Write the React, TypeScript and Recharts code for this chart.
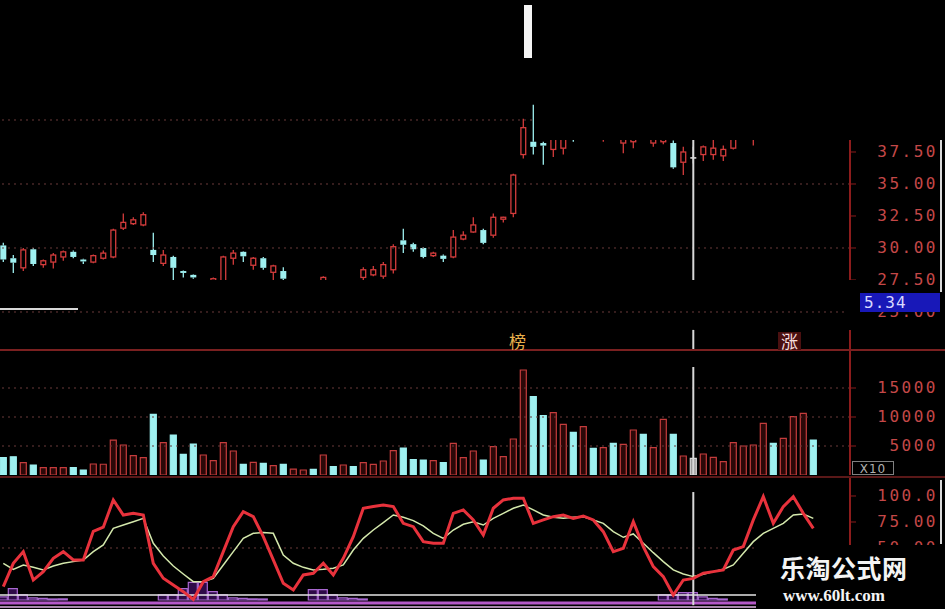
import { Bar, Cell, ComposedChart, Line, ReferenceLine, XAxis, YAxis } from "recharts";

// daily candles (hidden ones sit under the black patches)
const opens = [
  30.2, 29.2, 28.45, 29.9, 28.7, 28.9, 29.3, 29.7, 29.1, 28.9,
  29.2, 29.3, 31.55, 31.9, 31.8, 29.85, 28.8, 29.3, 28.2, 27.9,
  27.0, 27.0, 27.3, 29.2, 29.7, 28.65, 29.2, 28.1, 28.2, 27.0,
  27.1, 27.4, 27.3, 27.4, 27.1, 27.4, 27.7, 27.9, 27.8, 28.3,
  30.6, 30.3, 30.0, 29.4, 29.4, 29.3, 30.7, 31.25, 31.4, 31.0,
  32.25, 32.7, 37.3, 38.3, 38.2, 37.7, 37.8, 39.0, 38.6, 39.2,
  38.7, 39.1, 38.2, 38.3, 39.0, 38.2, 38.3, 38.2, 36.7, 37.1,
  37.3, 37.3, 37.2, 37.8, 38.6, 38.5, 38.9, 39.6, 39.2, 39.6,
  40.2, 40.8,
];
const highs = [
  30.4, 29.45, 30.0, 30.0, 29.1, 29.6, 29.8, 29.8, 29.15, 29.5,
  29.8, 31.5, 32.7, 32.4, 32.8, 31.2, 29.85, 29.4, 28.25, 27.95,
  27.45, 27.7, 29.4, 29.85, 29.75, 29.3, 29.3, 28.7, 28.5, 27.4,
  27.45, 27.45, 27.8, 27.45, 27.45, 27.45, 28.5, 28.6, 28.9, 30.3,
  31.5, 30.4, 30.05, 29.7, 29.5, 31.4, 31.3, 32.4, 31.5, 32.7,
  32.45, 35.8, 40.1, 41.2, 38.3, 38.8, 38.8, 39.2, 39.4, 39.4,
  39.3, 39.3, 39.0, 39.1, 39.2, 38.9, 39.0, 38.4, 37.9, 37.9,
  38.0, 38.7, 38.0, 38.7, 39.2, 39.2, 39.8, 39.8, 39.9, 40.5,
  41.1, 41.0,
];
const lows = [
  28.9, 28.05, 28.2, 28.6, 28.45, 28.4, 29.0, 29.2, 28.75, 28.8,
  29.1, 29.2, 31.4, 31.8, 31.7, 28.9, 28.6, 27.5, 27.7, 27.6,
  26.8, 26.9, 27.1, 28.7, 28.9, 28.3, 28.3, 27.5, 27.4, 26.8,
  26.9, 26.9, 27.2, 27.0, 27.0, 27.0, 27.5, 27.8, 27.6, 28.0,
  29.6, 29.7, 29.2, 29.3, 28.9, 29.2, 30.6, 31.2, 30.3, 30.8,
  32.0, 32.4, 37.0, 37.3, 36.5, 37.1, 37.3, 38.3, 38.5, 38.5,
  38.3, 38.5, 37.4, 37.8, 38.5, 37.9, 38.1, 36.2, 35.7, 36.6,
  36.8, 36.9, 36.8, 37.7, 38.5, 38.0, 38.7, 39.0, 39.0, 39.4,
  40.0, 40.1,
];
const closes = [
  29.1, 28.85, 29.85, 28.75, 29.0, 29.45, 29.7, 29.3, 28.95, 29.4,
  29.6, 31.4, 32.0, 32.2, 32.6, 29.45, 29.45, 28.45, 28.05, 27.7,
  27.3, 27.6, 29.3, 29.6, 29.35, 29.2, 28.45, 28.6, 27.6, 27.3,
  27.4, 27.1, 27.7, 27.2, 27.4, 27.2, 28.3, 28.3, 28.7, 30.1,
  30.25, 29.9, 29.3, 29.6, 29.15, 30.85, 31.0, 31.8, 30.4, 32.4,
  32.4, 35.7, 39.4, 37.9, 38.0, 38.5, 38.5, 38.5, 39.2, 38.7,
  39.1, 38.7, 38.8, 38.9, 38.6, 38.7, 38.8, 36.3, 37.5, 37.1,
  37.9, 37.8, 37.7, 38.5, 39.0, 39.0, 39.6, 39.2, 39.7, 40.3,
  40.9, 40.3,
];
const volumes = [
  2980, 3150, 2120, 1720, 1260, 1260, 1260, 1260, 860, 1900,
  1850, 6030, 5170, 3330, 2980, 10460, 5570, 6900, 3570, 5340,
  3450, 2470, 5570, 4140, 1840, 2190, 2010, 1610, 1840, 1030,
  860, 980, 3450, 1430, 1720, 1430, 2120, 1840, 2410, 4190,
  4650, 2650, 2590, 2470, 2120, 5460, 2980, 4140, 2590, 4880,
  3160, 6210, 18100, 13500, 10230, 10740, 8740, 7360, 8330, 4600,
  4710, 5460, 5290, 7760, 7010, 4710, 9600, 7010, 3280, 2870,
  3620, 3050, 2300, 5570, 5000, 5170, 8910, 5460, 6330, 10050,
  10640, 6030,
];
const kValues = [
  12.8, 35.3, 46.5, 19.2, 27.3, 40.1, 46.5, 38.5, 38.5, 66,
  70, 96.2, 81.7, 83.3, 81.7, 35.3, 20.9, 14.4, 8.0, 0.5,
  17.6, 22.5, 46.5, 70.5, 85, 80.1, 60.9, 38.5, 16.0, 9.6,
  24.1, 25.7, 35.3, 24.1, 40.1, 60.9, 88.2, 89.8, 91.4, 89.8,
  73.7, 70.5, 56.1, 54.5, 54.5, 83.3, 86.6, 77, 62.5, 88.2,
  96.2, 97.8, 97.8, 73.7, 77, 80.1, 81.7, 78.5, 80.8, 77,
  65.7, 46.5, 49.7, 75.3, 51.3, 32.1, 22.5, 4.8, 19.2, 20.8,
  25.7, 27.3, 28.9, 48.1, 51.3, 77, 99.4, 73.7, 89.8, 99.4,
  83.3, 68.9,
];
const dValues = [
  35.3, 29.5, 33.7, 31.4, 28.9, 32.7, 35.3, 36.9, 38.5, 46.5,
  52.9, 68.9, 72.1, 75.3, 78.5, 54.5, 42.3, 32.7, 25.0, 17.6,
  17.6, 20.8, 33.7, 46.5, 59.3, 64.1, 64.8, 64.1, 43.3, 35.3,
  31.4, 28.9, 29.5, 30.5, 33.7, 48.1, 59.3, 67.3, 74.4, 81.7,
  79.5, 76.3, 71.2, 64.1, 59.3, 67.3, 72.8, 75.3, 72.1, 78.5,
  83.3, 88.2, 91.4, 86.6, 81.7, 79.5, 78.5, 79.5, 80.1, 77,
  73.7, 65.7, 60.3, 63.5, 54.5, 45.5, 36.9, 28.9, 25, 22.5,
  24.7, 27.3, 29.5, 33.7, 44.9, 56.1, 64.1, 68.9, 73.7, 81.7,
  82.7, 78.5,
];
// purple bottom-signal steps
const signals = [
  3, 11, 5, 2, 1.5, 1, 1, 0, 0, 0,
  0, 0, 0, 0, 0, 0, 5, 5, 11, 17,
  17, 8, 5, 2, 1.5, 1, 1, 0, 0, 0,
  0, 10, 10, 5, 2, 1.5, 1, 0, 0, 0,
  0, 0, 0, 0, 0, 0, 0, 0, 0, 0,
  0, 0, 0, 0, 0, 0, 0, 0, 0, 0,
  0, 0, 0, 0, 0, 0, 5, 5, 7, 7,
  3, 1.5, 1, 0, 0, 0, 0, 0, 0, 0,
  0, 0,
];

const priceTicks = [25, 27.5, 30, 32.5, 35, 37.5, 40];
const priceGrid = [25, 30, 35, 40];
const volumeTicks = [5000, 10000, 15000];
const kdjTicks = [50, 75, 100];
const cursorIndex = 69;

const X_DOMAIN: [number, number] = [-0.33, 84.67];
const AXIS_W = 95;
const RED = "#d43c3c";
const CYAN = "#9ef0f0";
const FLAT = "#d8d8d8";
const AXIS = "#8c1c1c";
const GRID = "#6a3a3a";
const LABEL = "#c44848";

const rows = opens.map((open, i) => ({
  i,
  open,
  high: highs[i],
  low: lows[i],
  close: closes[i],
  range: [lows[i], highs[i]],
  vol: volumes[i],
  k: kValues[i],
  d: dValues[i],
  sig: signals[i] || null,
}));

const trendColor = (open: number, close: number) =>
  close > open ? RED : close < open ? CYAN : FLAT;

function CandleShape(props: any) {
  const { x, y, width, height, payload } = props;
  if (!payload || !height) return null;
  const { open, close, high, low } = payload;
  const top = Math.min(y, y + height);
  const h = Math.abs(height);
  const ppu = h / (high - low);
  const py = (v: number) => top + (high - v) * ppu;
  const cx = x + width / 2;
  const color = trendColor(open, close);
  const bt = py(Math.max(open, close));
  const bb = py(Math.min(open, close));
  return (
    <g>
      <line x1={cx} x2={cx} y1={top} y2={bt} stroke={color} strokeWidth={1.3} />
      <line x1={cx} x2={cx} y1={bb} y2={top + h} stroke={color} strokeWidth={1.3} />
      {close > open ? (
        <rect x={x + 0.6} y={bt} width={width - 1.2} height={Math.max(bb - bt, 1)} fill="#000" stroke={color} strokeWidth={1.3} />
      ) : (
        <rect x={x} y={bt} width={width} height={Math.max(bb - bt, 1.6)} fill={color} />
      )}
    </g>
  );
}

const axisTick = (format: (v: number) => string) => (props: any) => (
  <text
    x={938}
    y={props.y}
    dy={5}
    textAnchor="end"
    fill={LABEL}
    fontFamily="DejaVu Sans Mono"
    fontSize={16}
    letterSpacing={2.5}
  >
    {format(props.payload.value)}
  </text>
);

const margin = { top: 0, right: 0, bottom: 0, left: 0 };

const box = (left: number, top: number, width: number, height: number, background: string) => (
  <div style={{ position: "absolute", left, top, width, height, background }} />
);

export default function App() {
  return (
    <div style={{ position: "fixed", left: 0, top: 0, width: 945, height: 609, background: "#000", overflow: "hidden" }}>
      <div style={{ position: "absolute", left: 0, top: 0 }}>
        <ComposedChart width={945} height={350} data={rows} margin={margin}>
          <XAxis type="number" dataKey="i" domain={X_DOMAIN} hide allowDataOverflow />
          <YAxis
            orientation="right"
            width={AXIS_W}
            domain={[22.03, 49.375]}
            allowDataOverflow
            ticks={priceTicks}
            interval={0}
            axisLine={{ stroke: AXIS, strokeWidth: 2 }}
            tickLine={{ stroke: AXIS }}
            tickSize={6}
            tick={axisTick((v) => v.toFixed(2))}
          />
          {priceGrid.map((v) => (
            <ReferenceLine key={v} y={v} stroke={GRID} strokeDasharray="2 4" />
          ))}
          <Bar dataKey="range" barSize={6} shape={<CandleShape />} isAnimationActive={false} />
          <ReferenceLine segment={[{ x: cursorIndex, y: 38.44 }, { x: cursorIndex, y: 27.5 }]} stroke={FLAT} strokeWidth={2} />
          <ReferenceLine segment={[{ x: cursorIndex, y: 23.6 }, { x: cursorIndex, y: 22.03 }]} stroke={FLAT} strokeWidth={2} />
        </ComposedChart>
      </div>

      <div style={{ position: "absolute", left: 0, top: 350 }}>
        <ComposedChart width={945} height={125} data={rows} margin={margin}>
          <XAxis type="number" dataKey="i" domain={X_DOMAIN} hide allowDataOverflow />
          <YAxis
            orientation="right"
            width={AXIS_W}
            domain={[0, 21552]}
            allowDataOverflow
            ticks={volumeTicks}
            interval={0}
            axisLine={{ stroke: AXIS, strokeWidth: 2 }}
            tickLine={{ stroke: AXIS }}
            tickSize={6}
            tick={axisTick((v) => String(v))}
          />
          {volumeTicks.map((v) => (
            <ReferenceLine key={v} y={v} stroke={GRID} strokeDasharray="2 4" />
          ))}
          <Bar dataKey="vol" barSize={6} isAnimationActive={false}>
            {rows.map((r) => {
              const c = trendColor(r.open, r.close);
              const up = c === RED;
              return <Cell key={r.i} fill={up ? "#2c0808" : c === FLAT ? "#9a9a9a" : c} stroke={up ? "#c43c3c" : c} strokeWidth={1.2} />;
            })}
          </Bar>
          <ReferenceLine segment={[{ x: cursorIndex, y: 18620 }, { x: cursorIndex, y: 0 }]} stroke={FLAT} strokeWidth={2} />
        </ComposedChart>
      </div>

      <div style={{ position: "absolute", left: 0, top: 478 }}>
        <ComposedChart width={945} height={131} data={rows} margin={margin}>
          <XAxis type="number" dataKey="i" domain={X_DOMAIN} hide allowDataOverflow />
          <YAxis
            orientation="right"
            width={AXIS_W}
            domain={[-8.65, 117.3]}
            allowDataOverflow
            ticks={kdjTicks}
            interval={0}
            axisLine={{ stroke: AXIS, strokeWidth: 2 }}
            tickLine={{ stroke: AXIS }}
            tickSize={6}
            tick={axisTick((v) => v.toFixed(2).slice(0, 5))}
          />
          <ReferenceLine y={50} stroke={GRID} strokeDasharray="2 4" />
          <Bar dataKey="sig" barSize={10} fill="#2e0a48" stroke="#a868d0" strokeWidth={1.2} isAnimationActive={false} />
          <ReferenceLine y={4.8} stroke="#e6e6e6" strokeWidth={1.5} />
          <ReferenceLine y={-2.9} stroke="#b458c8" strokeWidth={3} />
          <ReferenceLine y={-6.7} stroke="#e0b4e4" strokeWidth={1.5} />
          <ReferenceLine segment={[{ x: cursorIndex, y: 103.8 }, { x: cursorIndex, y: -5 }]} stroke={FLAT} strokeWidth={2} />
          <Line type="linear" dataKey="d" stroke="#d4e8ac" strokeWidth={1.5} dot={false} isAnimationActive={false} />
          <Line type="linear" dataKey="k" stroke="#e8323c" strokeWidth={3} dot={false} isAnimationActive={false} />
        </ComposedChart>
      </div>

      {/* black patches of the original screenshot */}
      {box(536, 0, 409, 140, "#000")}
      {box(0, 280, 856, 25, "#000")}
      {box(846, 305, 10, 25, "#000")}

      {/* separators and stray marks */}
      {box(0, 349, 945, 2, "#7a2020")}
      {box(0, 476, 945, 2, "#5a1818")}
      {box(524, 5, 8, 53, "#f4f4f4")}
      {box(0, 308, 78, 2, "#d8d8d8")}
      {box(940, 140, 2, 152, "#d8d8d8")}
      {box(940, 480, 2, 64, "#d8d8d8")}

      <div
        style={{
          position: "absolute",
          left: 860,
          top: 293,
          width: 80,
          height: 19,
          background: "#1818b8",
          color: "#d8d8ff",
          fontFamily: "DejaVu Sans Mono",
          fontSize: 16,
          lineHeight: "19px",
          paddingLeft: 4,
          letterSpacing: 1,
          boxSizing: "border-box",
        }}
      >
        5.34
      </div>

      <div
        style={{
          position: "absolute",
          left: 852,
          top: 461,
          width: 42,
          height: 14,
          border: "1px solid #808080",
          color: "#b0b0b0",
          fontFamily: "DejaVu Sans",
          fontSize: 12,
          lineHeight: "14px",
          textAlign: "center",
          letterSpacing: 1,
          boxSizing: "border-box",
        }}
      >
        X10
      </div>

      <div style={{ position: "absolute", left: 509, top: 332, fontFamily: "Noto Sans CJK SC", fontSize: 17, lineHeight: "18px", color: "#e8b04c" }}>
        榜
      </div>
      <div
        style={{
          position: "absolute",
          left: 778,
          top: 332,
          padding: "0 3px",
          fontFamily: "Noto Sans CJK SC",
          fontSize: 17,
          lineHeight: "18px",
          color: "#f6dede",
          background: "#4a1010",
        }}
      >
        涨
      </div>

      <div style={{ position: "absolute", left: 756, top: 545, width: 189, height: 64, background: "#000" }}>
        <div
          style={{
            position: "absolute",
            left: 24,
            top: 8,
            fontFamily: "Noto Sans CJK SC",
            fontWeight: 700,
            fontSize: 25,
            lineHeight: "28px",
            color: "#f4f4f4",
            letterSpacing: 0.5,
          }}
        >
          乐淘公式网
        </div>
        <div
          style={{
            position: "absolute",
            left: 27,
            top: 42,
            fontFamily: "Liberation Serif",
            fontWeight: 700,
            fontSize: 17,
            lineHeight: "18px",
            color: "#f4f4f4",
          }}
        >
          www.60lt.com
        </div>
      </div>
    </div>
  );
}
